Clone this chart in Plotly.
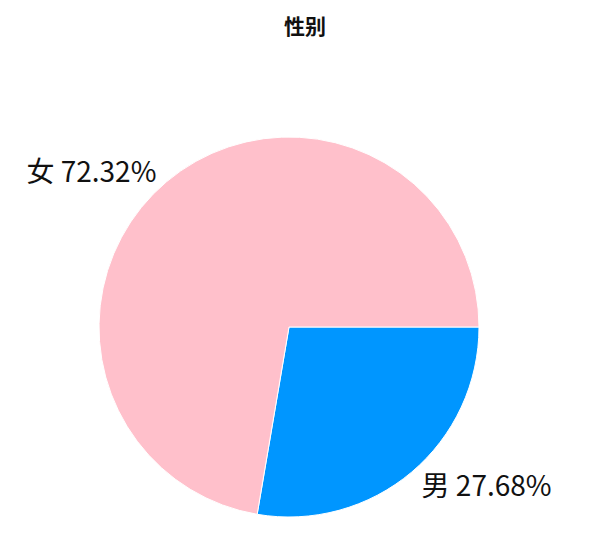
import plotly.graph_objects as go

# gender split
labels = ["男", "女"]
values = [27.68, 72.32]
colors = ["#0096FF", "#FFC0CB"]

W, H = 594, 540

fig = go.Figure(go.Pie(
    labels=labels,
    values=values,
    sort=False,
    direction="clockwise",
    rotation=90,
    marker=dict(colors=colors, line=dict(color="white", width=1)),
    textposition="outside",
    texttemplate="%{label} %{percent:.2%}",
    textfont=dict(size=28, color="#111111"),
    showlegend=False,
    hoverinfo="label+percent",
    domain=dict(x=[91 / W, 471 / W], y=[1 - 509 / H, 1 - 129 / H]),
))

fig.update_layout(
    width=W,
    height=H,
    margin=dict(l=0, r=0, t=0, b=0),
    paper_bgcolor="white",
    font=dict(family="Noto Sans CJK SC, sans-serif"),
    title=dict(text="<b>性别</b>", x=0.5, xanchor="center", y=1 - 19 / H, yanchor="middle",
               font=dict(size=21, color="#111111")),
)

fig.write_html("out.html")
